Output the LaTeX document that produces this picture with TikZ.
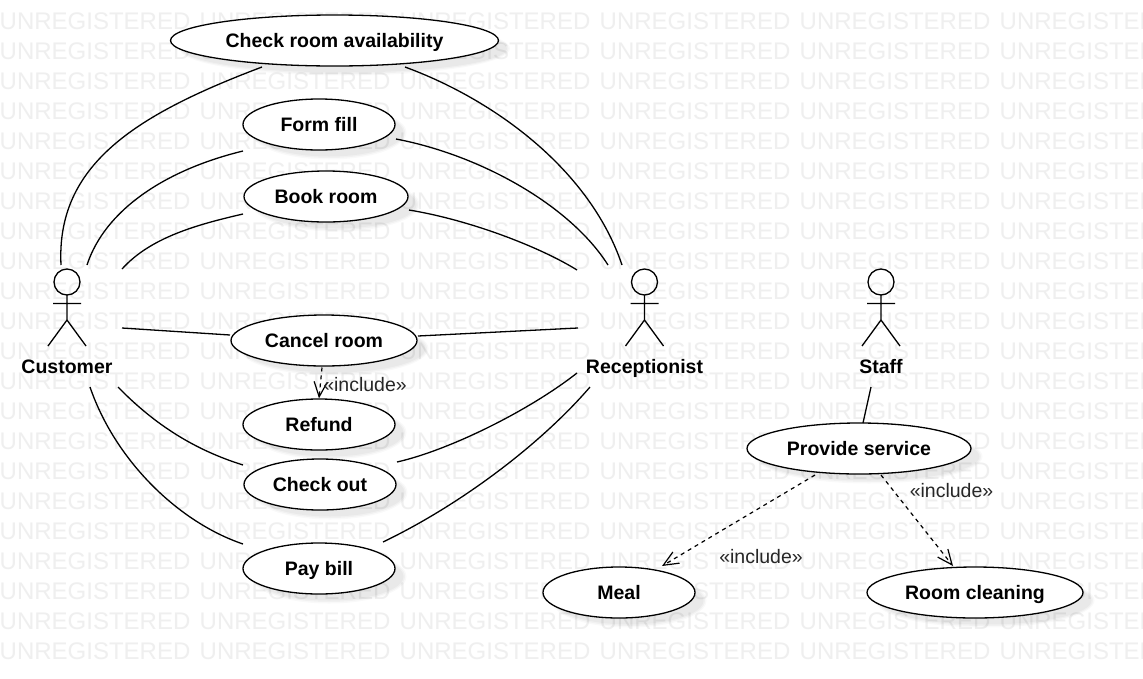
\documentclass[tikz,border=0pt]{standalone}
\usepackage{fontspec}
\setmainfont{Liberation Sans}
\usetikzlibrary{arrows.meta,calc,shapes.geometric}
\definecolor{wmgrey}{HTML}{EFEFEF}
\tikzset{
  x=1pt,y=-1pt,
  wmark/.style={inner sep=0pt,anchor=west,text=wmgrey,font=\fontsize{24}{26}\selectfont},
  usecase/.style={ellipse,draw=black,fill=white,line width=1.3pt,inner sep=0pt,text height=15.5pt,text depth=1.5pt,font=\bfseries\fontsize{19.5}{22}\selectfont},
  actorname/.style={inner sep=0pt,text height=15.5pt,text depth=1.5pt,font=\bfseries\fontsize{19.5}{22}\selectfont},
  stereo/.style={inner sep=0pt,text=black!85,font=\fontsize{19.5}{22}\selectfont},
  assoc/.style={line width=1.3pt,draw=black},
  incl/.style={line width=1.2pt,draw=black,dash pattern=on 4pt off 4pt,-{Straight Barb[length=15pt,width=13pt,line width=1.2pt]}},
  figline/.style={line width=1.3pt,draw=black},
}
\newcommand{\shadowell}[4]{%
  \fill[black,opacity=.022] (#1+10,#2+8) ellipse [x radius=#3+1.5,y radius=#4+1.5];
  \fill[black,opacity=.03] (#1+10,#2+8) ellipse [x radius=#3,y radius=#4];
  \fill[black,opacity=.03] (#1+10,#2+8) ellipse [x radius=#3-1.5,y radius=#4-1.5];
}
\newcommand{\usecasenode}[6]{% name, x, y, rx, ry, text
  \shadowell{#2}{#3}{#4}{#5}
  \node[usecase,minimum width=2*#4 pt,minimum height=2*#5 pt] (#1) at (#2,#3) {#6};
}
\newcommand{\actorfig}[1]{%
  \draw[figline] (#1,282) circle [radius=13];
  \draw[figline] (#1,295) -- (#1,320) (#1-14,303.5) -- (#1+14,303.5)
     (#1-19,346) -- (#1,320) -- (#1+19,346);
}
\begin{document}
\begin{tikzpicture}
\clip (0,0) rectangle (1143,678);
\fill[white] (0,0) rectangle (1143,678);
\foreach \r in {0,...,21}{
  \foreach \c in {0,...,5}{
    \node[wmark] (wm-\r-\c) at (\c*200-0.5,21.5+\r*30) {UNREGISTERED};
  }
}
\usecasenode{check}{334.5}{40.5}{164}{25.5}{Check room availability}
\usecasenode{form}{319}{124.5}{76}{25.5}{Form fill}
\usecasenode{book}{326}{196.5}{82}{25.5}{Book room}
\usecasenode{cancel}{324}{340.5}{93}{25.5}{Cancel room}
\usecasenode{refund}{319}{424.5}{76}{25.5}{Refund}
\usecasenode{checkout}{320}{484.5}{76}{25.5}{Check out}
\usecasenode{pay}{319}{568.5}{76}{25.5}{Pay bill}
\usecasenode{service}{859}{448.5}{112}{25.5}{Provide service}
\usecasenode{meal}{619}{592.5}{76}{25.5}{Meal}
\usecasenode{cleaning}{975}{592.5}{108}{25.5}{Room cleaning}

\actorfig{67}
\actorfig{644.5}
\actorfig{881}
\node[actorname] (customer) at (67,366) {Customer};
\node[actorname] (receptionist) at (644.5,366) {Receptionist};
\node[actorname] (staff) at (881,366) {Staff};

% Customer associations
\draw[assoc] ($(customer.center)+(-6,-101)$) .. controls ($(customer.center)+(-11,-201)$) and ($(check.center)+(-199.5,74.5)$) .. ($(check.center)+(-72.5,26.5)$);
\draw[assoc] ($(customer.center)+(20,-101)$) .. controls ($(customer.center)+(38,-156)$) and ($(form.center)+(-154,45.5)$) .. ($(form.center)+(-76,26.5)$);
\draw[assoc] ($(customer.center)+(55,-97)$) .. controls ($(customer.center)+(83,-128)$) and ($(book.center)+(-131,28.5)$) .. ($(book.center)+(-83,17.5)$);
\draw[assoc] ($(customer.center)+(55,-38)$) -- ($(cancel.center)+(-94,-5.5)$);
\draw[assoc] ($(customer.center)+(51,21)$) .. controls ($(customer.center)+(88,59)$) and ($(checkout.center)+(-125,-34.5)$) .. ($(checkout.center)+(-77,-19.5)$);
\draw[assoc] ($(customer.center)+(23,21)$) .. controls ($(customer.center)+(48,94)$) and ($(pay.center)+(-141,-46.5)$) .. ($(pay.center)+(-76,-24.5)$);
% Receptionist associations
\draw[assoc] ($(receptionist.center)+(-22.5,-101)$) .. controls ($(receptionist.center)+(-54.5,-196)$) and ($(check.center)+(160.5,59.5)$) .. ($(check.center)+(70.5,26.5)$);
\draw[assoc] ($(receptionist.center)+(-36.5,-101)$) .. controls ($(receptionist.center)+(-74.5,-161)$) and ($(form.center)+(161,30.5)$) .. ($(form.center)+(77,14.5)$);
\draw[assoc] ($(receptionist.center)+(-67.5,-96)$) .. controls ($(receptionist.center)+(-104.5,-119)$) and ($(book.center)+(144,23.5)$) .. ($(book.center)+(83,13.5)$);
\draw[assoc] ($(receptionist.center)+(-66.5,-38)$) -- ($(cancel.center)+(94,-4.5)$);
\draw[assoc] ($(receptionist.center)+(-67.5,7)$) .. controls ($(receptionist.center)+(-114.5,44)$) and ($(checkout.center)+(130,-34.5)$) .. ($(checkout.center)+(77,-22.5)$);
\draw[assoc] ($(receptionist.center)+(-54.5,21)$) .. controls ($(receptionist.center)+(-104.5,79)$) and ($(pay.center)+(141,-63.5)$) .. ($(pay.center)+(64,-26.5)$);
% Staff
\draw[assoc] ($(staff.center)+(-10,21)$) -- ($(service.center)+(4,-25.5)$);
% Includes
\draw[incl] ($(cancel.center)+(-2,27)$) -- (refund.north);
\draw[incl] ($(service.center)+(-44,26.5)$) -- ($(meal.center)+(43,-26.5)$);
\draw[incl] ($(service.center)+(22,26.5)$) -- ($(cleaning.center)+(-22,-26.5)$);
\node[stereo] (inc1) at (365,385) {«include»};
\node[stereo] (inc2) at (761,557) {«include»};
\node[stereo] (inc3) at (951.5,491) {«include»};
\end{tikzpicture}
\end{document}
